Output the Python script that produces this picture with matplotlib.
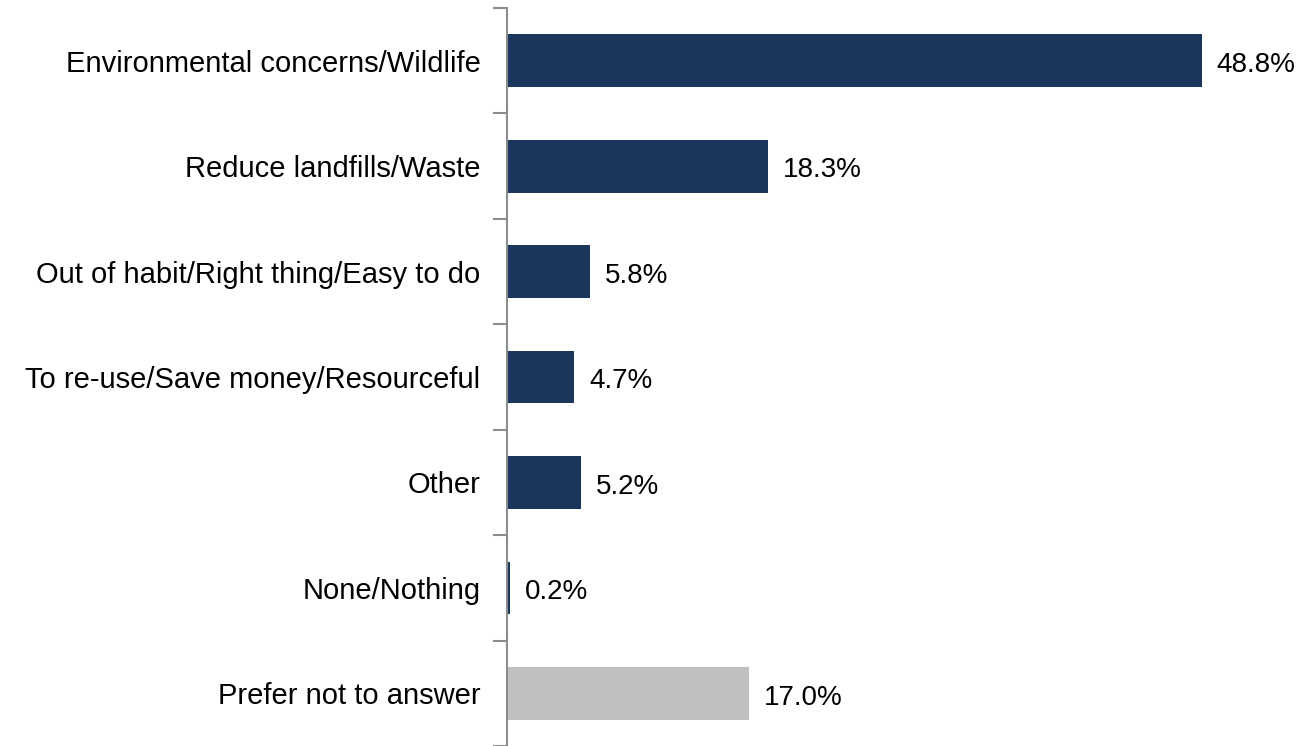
import numpy as np
import matplotlib.pyplot as plt

plt.rcParams['font.family'] = ['Liberation Sans', 'DejaVu Sans']

categories = ['Environmental concerns/Wildlife', 'Reduce landfills/Waste',
              'Out of habit/Right thing/Easy to do', 'To re-use/Save money/Resourceful',
              'Other', 'None/Nothing', 'Prefer not to answer']
values = [48.8, 18.3, 5.8, 4.7, 5.2, 0.2, 17.0]
colors = ['#1a365d'] * 6 + ['#c0c0c0']

fig = plt.figure(figsize=(12.99, 7.46), dpi=100)
ax = fig.add_axes([507 / 1299, 0, 1 - 507 / 1299, 1 - 8 / 746])

y = np.arange(len(categories))
ax.barh(y, values, height=0.5, color=colors)
ax.set_ylim(len(categories) - 0.5, -0.5)
ax.set_xlim(0, (1299 - 507) / 14.24)

for yi, v in zip(y, values):
    ax.text(v + 1.05, yi + 0.04, '%.1f%%' % v, va='center', ha='left', fontsize=20)

ax.set_yticks(y)
ax.set_yticklabels(categories, fontsize=21)
ax.tick_params(axis='y', which='major', length=0, pad=19)
ax.set_yticks(np.arange(-0.5, len(categories)), minor=True)
ax.tick_params(axis='y', which='minor', length=10, width=1.5, color='#8c8c8c')
ax.set_xticks([])

for s in ['top', 'right', 'bottom']:
    ax.spines[s].set_visible(False)
ax.spines['left'].set_color('#8c8c8c')
ax.spines['left'].set_linewidth(1.5)

fig.savefig('out.png', dpi=100)
